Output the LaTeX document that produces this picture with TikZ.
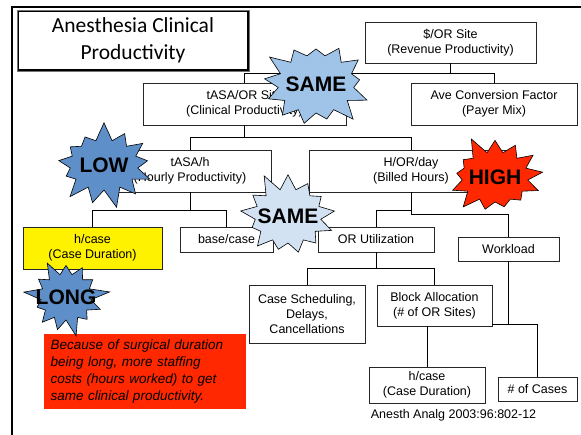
\documentclass[tikz,border=0pt]{standalone}
\usepackage{fontspec}
\setmainfont{Liberation Sans}
\newfontfamily\titlefont{Carlito}
\usetikzlibrary{positioning, calc, shapes.symbols}

\definecolor{sameblue}{RGB}{160,195,232}
\definecolor{paleblue}{RGB}{211,226,243}
\definecolor{lowblue}{RGB}{94,143,200}
\definecolor{hotred}{RGB}{255,40,0}

\begin{document}
\begin{tikzpicture}[x=1pt, y=-1pt,
        box/.style={draw=black!85, line width=0.8pt, fill=white, align=center, inner sep=0pt, font=\fontsize{12.5}{15}\selectfont},
        burst/.style={starburst, draw, line width=0.6pt, starburst points=13, starburst point height=19pt, inner sep=0pt},
        bursttext/.style={font=\fontsize{21}{21}\selectfont\bfseries, inner sep=0pt},
        link/.style={line width=0.8pt}]
        \useasboundingbox (0,0) rectangle (581,435);
        \draw[line width=2.7pt] (12,435) -- (12,7) -- (581,7);

        \node[draw=black, line width=2.2pt, fill=white, minimum width=230pt, minimum height=59pt, align=center, font=\titlefont\fontsize{21.5}{27}\selectfont] (title) at (133,40.5) {Anesthesia Clinical\\Productivity};
        \draw[black!55, line width=0.5pt] (title.north west) rectangle (title.south east);

        \node[box, minimum width=171pt, minimum height=41pt] (rev) at (450.5,42.5) {\$/OR Site\\(Revenue Productivity)};
        \node[box, minimum width=203pt, minimum height=42pt] (clin) at (244.5,104) {tASA/OR Site\\(Clinical Productivity)};
        \node[box, minimum width=166pt, minimum height=42pt] (conv) at (494,104) {Ave Conversion Factor\\(Payer Mix)};
        \node[box, minimum width=163pt, minimum height=42pt] (hourly) at (190,171) {tASA/h\\(Hourly Productivity)};
        \node[box, minimum width=204pt, minimum height=42pt] (billed) at (411,171) {H/OR/day\\(Billed Hours)};
        \node[box, fill=yellow, minimum width=139pt, minimum height=42pt] (dur) at (92.5,248) {h/case\\(Case Duration)};
        \node[box, minimum width=93pt, minimum height=25pt] (base) at (226.5,239.5) {base/case};
        \node[box, minimum width=116pt, minimum height=25pt] (util) at (376,239.5) {OR Utilization};
        \node[box, minimum width=101pt, minimum height=24pt] (work) at (508.5,249) {Workload};
        \node[box, minimum width=116pt, minimum height=58pt] (sched) at (307,314) {Case Scheduling,\\Delays,\\Cancellations};
        \node[box, minimum width=115pt, minimum height=41pt] (block) at (434.5,305.5) {Block Allocation\\(\# of OR Sites)};
        \node[box, minimum width=116pt, minimum height=36pt] (dur2) at (427,385) {h/case\\(Case Duration)};
        \node[box, minimum width=79pt, minimum height=24pt] (cases) at (537.5,389) {\# of Cases};

        \foreach \a/\b/\d in {rev/clin/10, rev/conv/10, clin/hourly/12, clin/billed/12, hourly/dur/18, hourly/base/18, billed/util/18, billed/work/22, util/sched/16, util/block/16} {
                \draw[link] (\a.south) -- ++(0,\d) -| (\b.north);
        }
        \draw[link] (dur2.north) -- (dur2.north |- block.south);
        \draw[link] (work.south) -- ++(0,63) coordinate (wj);
        \draw[link] (block.east |- wj) -| (cases.north);

        \node[fill=hotred, minimum width=202pt, minimum height=75pt, text width=189pt, align=left, inner sep=0pt, font=\itshape\fontsize{13.5}{17}\selectfont] (note) at (145,371.5) {Because of surgical duration\\being long, more staffing\\costs (hours worked) to get\\same clinical productivity.};
        \node[font=\fontsize{12.5}{15}\selectfont] (cite) at (453.5,415) {Anesth Analg 2003:96:802-12};

        % bursts on top, word laid over each one
        \node[burst, fill=sameblue, random starburst=3, minimum width=114pt, minimum height=96pt, label={[bursttext]center:SAME}] (same1) at (316,84) {};
        \node[burst, fill=lowblue, random starburst=7, minimum width=106pt, minimum height=88pt, label={[bursttext]center:LOW}] (low) at (104,165) {};
        \node[burst, fill=paleblue, random starburst=11, minimum width=104pt, minimum height=92pt, label={[bursttext]center:SAME}] (same2) at (288,216) {};
        \node[burst, fill=hotred, random starburst=5, minimum width=104pt, minimum height=88pt, label={[bursttext]center:HIGH}] (high) at (495,177) {};
        \node[burst, fill=lowblue, random starburst=9, minimum width=88pt, minimum height=84pt, label={[bursttext]center:LONG}] (long) at (66,297) {};
\end{tikzpicture}
\end{document}
